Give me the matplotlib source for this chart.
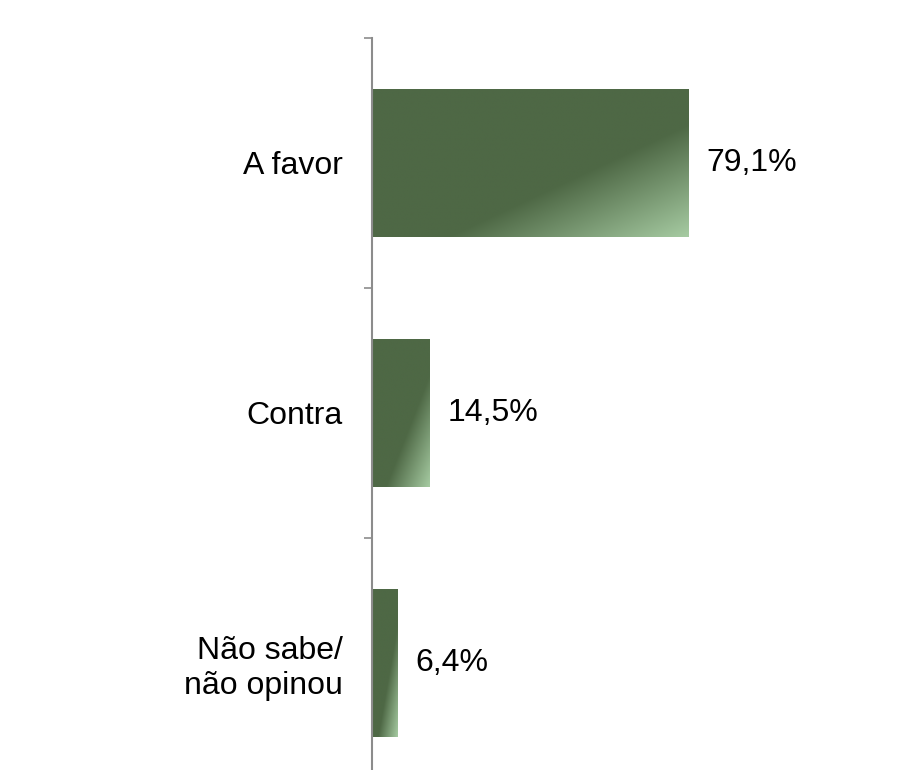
import numpy as np
import matplotlib
matplotlib.use('Agg')
import matplotlib.pyplot as plt
from matplotlib.colors import to_rgb

categories = ['A favor', 'Contra', 'Não sabe/\nnão opinou']
values = [79.1, 14.5, 6.4]
value_labels = ['79,1%', '14,5%', '6,4%']

dark = np.array(to_rgb('#4e6845'))
light = np.array(to_rgb('#a6cba2'))

plt.rcParams['font.family'] = ['Liberation Sans', 'DejaVu Sans']


def gradient_image(n=200):
    # diagonal gradient: flat dark, lighter towards the bottom-right corner
    u = np.linspace(0, 1, n)
    v = np.linspace(0, 1, n)
    uu, vv = np.meshgrid(u, v)
    t = (uu + vv) / 2
    s = np.clip((t - 0.62) / 0.38, 0, 1)[..., None]
    return dark * (1 - s) + light * s


fig = plt.figure(figsize=(9.06, 7.70), dpi=100)
ax = fig.add_axes([372 / 906, 1 - 788 / 770, 400 / 906, 750 / 770])

ypos = np.arange(len(categories))
height = 0.59
bars = ax.barh(ypos, values, height=height, color=dark, edgecolor='none')
img = gradient_image()
for b, y, v in zip(bars, ypos, values):
    im = ax.imshow(img, extent=(0, v, y + height / 2, y - height / 2),
                   origin='upper', aspect='auto', interpolation='bilinear',
                   zorder=2)
    im.set_clip_path(b)

for y, v, lab in zip(ypos, values, value_labels):
    ax.annotate(lab, (v, y), xytext=(13, 0), textcoords='offset points',
                ha='left', va='center', fontsize=23)

ax.set_xlim(0, 100)
ax.set_ylim(2.5, -0.5)
ax.set_yticks(ypos)
ax.set_yticklabels(categories, fontsize=23, linespacing=1.2)
ax.set_yticks([-0.5, 0.5, 1.5, 2.5], minor=True)
ax.tick_params(axis='y', which='major', length=0, pad=21)
ax.tick_params(axis='y', which='minor', length=6, width=1.2, color='#8c8c8c')
ax.set_xticks([])
for side in ['top', 'right', 'bottom']:
    ax.spines[side].set_visible(False)
ax.spines['left'].set_color('#8c8c8c')
ax.spines['left'].set_linewidth(1.5)
ax.spines['left'].set_zorder(3)

fig.savefig('out.png', dpi=100)
